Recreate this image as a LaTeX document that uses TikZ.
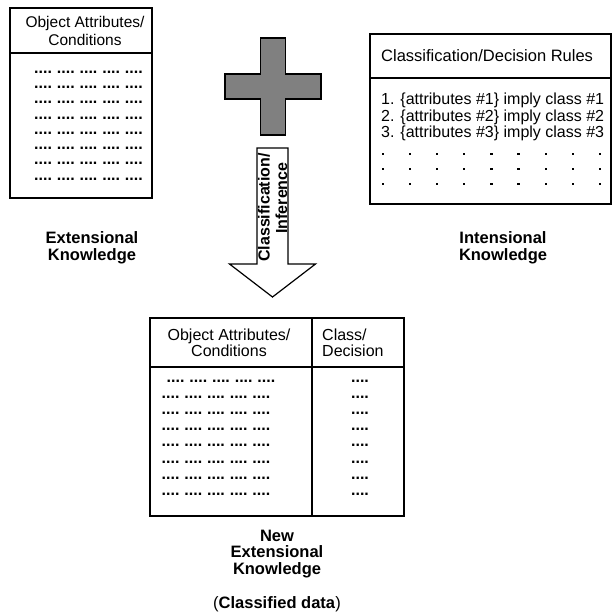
\documentclass[tikz,border=0pt]{standalone}
\usepackage{fontspec}
\setmainfont{Liberation Sans}
\newcommand\dotgrp{\textbf{....}}
\newcommand\dotrow{\dotgrp\hspace{4.9pt}\dotgrp\hspace{4.9pt}\dotgrp\hspace{4.9pt}\dotgrp\hspace{4.9pt}\dotgrp}
\definecolor{crossgray}{RGB}{128,128,128}
\begin{document}
\begin{tikzpicture}[x=1pt,y=-1pt,
  box/.style={draw, line width=1.2pt},
  txt/.style={font=\fontsize{16}{16.5}\selectfont, align=center, inner sep=0},
  lbl/.style={font=\fontsize{16.5}{16.5}\selectfont\bfseries, align=center, inner sep=0},
  dots/.style={font=\fontsize{16}{16.5}\selectfont, inner sep=0},
  pt/.style={fill, minimum size=2.2pt, inner sep=0}]
\useasboundingbox (0,0) rectangle (613,614);
% left box
\draw[box] (10,8) rectangle (152,198);
\draw[box] (10,53) -- (152,53);
\node[txt, font=\fontsize{15.5}{17.5}\selectfont] (lh) at (85,31) {Object Attributes/\\Conditions};
\foreach \i in {0,...,7} \node[dots] (ld\i) at (88.5,{72+\i*15.3}) {\dotrow};
% cross
\draw[line width=1.5pt, fill=crossgray]
  (260.5,38) -- (285.5,38) -- (285.5,74) -- (321,74) -- (321,99) -- (285.5,99)
  -- (285.5,135) -- (260.5,135) -- (260.5,99) -- (225,99) -- (225,74) -- (260.5,74) -- cycle;
% arrow
\draw[line width=1.2pt, fill=white]
  (257,148) -- (288,148) -- (288,264) -- (315.5,264) -- (272.5,297) -- (229.5,264) -- (257,264) -- cycle;
\node[lbl, font=\fontsize{16}{16}\selectfont\bfseries, rotate=90] (inf1) at (264,207.5) {Classification/};
\node[lbl, font=\fontsize{16}{16}\selectfont\bfseries, rotate=90] (inf2) at (281.5,198) {Inference};
% right box
\draw[box] (370,34) rectangle (611,204);
\draw[box] (370,78) -- (611,78);
\node[txt, anchor=west, font=\fontsize{16.5}{17}\selectfont] (rh) at (381,56) {Classification/Decision Rules};
\node[txt, anchor=north west, align=left] (rules) at (381,93)
  {1. \{attributes \#1\} imply class \#1\\2. \{attributes \#2\} imply class \#2\\3. \{attributes \#3\} imply class \#3};
\foreach \r in {0,1,2} \foreach \c in {0,...,8}
  \node[pt] (rd\r\c) at ({383+\c*27.1},{154+\r*15}) {};
% labels
\node[lbl] (ext) at (92,248) {Extensional\\Knowledge};
\node[lbl] (int) at (503,248) {Intensional\\Knowledge};
% bottom table
\draw[box] (150,318) rectangle (404,516);
\draw[box] (312,318) -- (312,516);
\draw[box] (150,367) -- (404,367);
\node[txt] (bh1) at (229,343) {Object Attributes/\\Conditions};
\node[txt, anchor=west, align=left] (bh2) at (322,343) {Class/\\Decision};
\node[dots] (bd0) at (221,381) {\dotrow};
\foreach \i in {1,...,7} \node[dots] (bd\i) at (216,{381+\i*16.2}) {\dotrow};
\foreach \i in {0,...,7} \node[dots] (bc\i) at (360,{381+\i*16.2}) {\dotgrp};
\node[lbl] (newext) at (277,554) {New\\Extensional\\Knowledge};
\node[txt, font=\fontsize{16.5}{17}\selectfont] (cls) at (277,604) {(\textbf{Classified data})};
\end{tikzpicture}
\end{document}
